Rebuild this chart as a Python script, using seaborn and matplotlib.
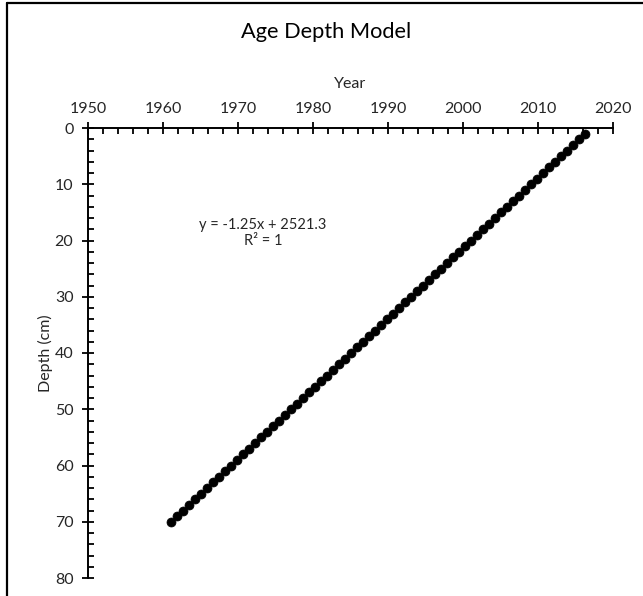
import matplotlib
matplotlib.use("Agg")
import matplotlib.pyplot as plt
from matplotlib.lines import Line2D
from matplotlib.ticker import MultipleLocator
import pandas as pd
import seaborn as sns

# Profundidade (cm) e ano estimado de cada amostra
depth_cm = [
    1, 2, 3, 4, 5, 6, 7, 8, 9, 10,
    11, 12, 13, 14, 15, 16, 17, 18, 19, 20,
    21, 22, 23, 24, 25, 26, 27, 28, 29, 30,
    31, 32, 33, 34, 35, 36, 37, 38, 39, 40,
    41, 42, 43, 44, 45, 46, 47, 48, 49, 50,
    51, 52, 53, 54, 55, 56, 57, 58, 59, 60,
    61, 62, 63, 64, 65, 66, 67, 68, 69, 70,
]
year = [
    2016.24, 2015.44, 2014.64, 2013.84, 2013.04, 2012.24, 2011.44, 2010.64, 2009.84, 2009.04,
    2008.24, 2007.44, 2006.64, 2005.84, 2005.04, 2004.24, 2003.44, 2002.64, 2001.84, 2001.04,
    2000.24, 1999.44, 1998.64, 1997.84, 1997.04, 1996.24, 1995.44, 1994.64, 1993.84, 1993.04,
    1992.24, 1991.44, 1990.64, 1989.84, 1989.04, 1988.24, 1987.44, 1986.64, 1985.84, 1985.04,
    1984.24, 1983.44, 1982.64, 1981.84, 1981.04, 1980.24, 1979.44, 1978.64, 1977.84, 1977.04,
    1976.24, 1975.44, 1974.64, 1973.84, 1973.04, 1972.24, 1971.44, 1970.64, 1969.84, 1969.04,
    1968.24, 1967.44, 1966.64, 1965.84, 1965.04, 1964.24, 1963.44, 1962.64, 1961.84, 1961.04,
]
equacao = "y = -1.25x + 2521.3\nR² = 1"

df = pd.DataFrame({"Year": year, "Depth": depth_cm})

sns.set_style("white")
plt.rcParams["font.family"] = ["Lato", "DejaVu Sans"]
TXT = "#262626"

fig = plt.figure(figsize=(6.43, 5.96), dpi=100)
ax = fig.add_axes([88 / 643, 1 - 578 / 596, 525 / 643, 450 / 596])

sns.scatterplot(data=df, x="Year", y="Depth", ax=ax, color="black",
                s=42, edgecolor="black", linewidth=0.5, zorder=3)

ax.set_xlim(1950, 2020)
ax.set_ylim(80, 0)

# eixo X no topo, estilo Excel
ax.xaxis.tick_top()
ax.xaxis.set_label_position("top")
for lado in ("right", "bottom"):
    ax.spines[lado].set_visible(False)
for lado in ("top", "left"):
    ax.spines[lado].set_color("black")
    ax.spines[lado].set_linewidth(1.4)

ax.xaxis.set_major_locator(MultipleLocator(10))
ax.xaxis.set_minor_locator(MultipleLocator(2))
ax.yaxis.set_major_locator(MultipleLocator(10))
ax.yaxis.set_minor_locator(MultipleLocator(2))

ax.tick_params(axis="both", which="both", top=True, left=True,
               bottom=False, right=False)
ax.tick_params(axis="both", which="major", direction="inout", length=9,
               width=1.3, color="black", labelsize=11.5, labelcolor=TXT)
ax.tick_params(axis="both", which="minor", direction="in", length=4,
               width=1.3, color="black")
ax.tick_params(axis="x", which="major", pad=4)
ax.tick_params(axis="y", which="major", pad=6)

ax.set_xlabel("Year", fontsize=11.5, color=TXT, labelpad=10)
ax.set_ylabel("Depth (cm)", fontsize=11.5, color=TXT, labelpad=1)

ax.text(1973.3, 18.6, equacao, ha="center", va="center", fontsize=10.5,
        color=TXT, linespacing=1.2)

fig.text(326 / 643, 1 - 32 / 596, "Age Depth Model", ha="center", va="center",
         fontsize=15.7, color="black")

# moldura do gráfico (só topo e esquerda aparecem no recorte)
fig.add_artist(Line2D([7 / 643, 1.0], [1 - 3 / 596, 1 - 3 / 596],
                      transform=fig.transFigure, color="black", lw=1.6))
fig.add_artist(Line2D([7 / 643, 7 / 643], [0.0, 1 - 3 / 596],
                      transform=fig.transFigure, color="black", lw=1.6))

fig.savefig("out.png", dpi=100)
